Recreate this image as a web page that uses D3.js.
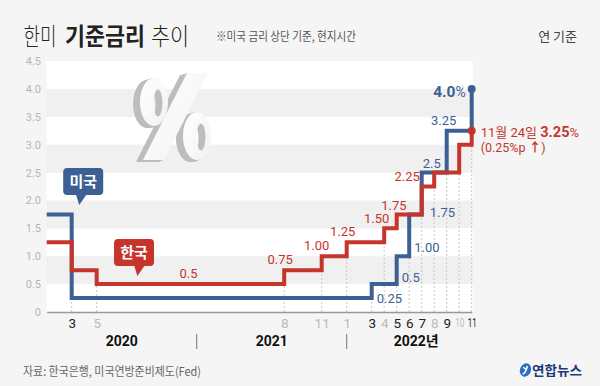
<!DOCTYPE html>
<html>
<head>
<meta charset="utf-8">
<script src="https://cdnjs.cloudflare.com/ajax/libs/d3/7.8.5/d3.min.js"></script>
<style>
  body { margin: 0; background: #f5f5f5; }
  svg { display: block; font-family: Roboto, "Noto Sans CJK KR", sans-serif; }
</style>
</head>
<body>
<div id="chart"></div>
<script>
// month index: 0 = Jan 2020 ... 34 = Nov 2022
const usMonths = [0, 2, 26, 28, 29, 30, 32, 34];
const usRates  = [1.75, 0.25, 0.5, 1.0, 1.75, 2.5, 3.25, 4.0];
const krMonths = [0, 2, 4, 19, 22, 24, 27, 28, 30, 31, 33, 34];
const krRates  = [1.25, 0.75, 0.5, 0.75, 1.0, 1.25, 1.5, 1.75, 2.25, 2.5, 3.0, 3.25];
const tickMonths = [2, 4, 19, 22, 24, 26, 27, 28, 29, 30, 31, 32, 33, 34];
const yTicks = [0, 0.5, 1, 1.5, 2, 2.5, 3, 3.5, 4, 4.5];
const years = ["2020", "2021", "2022"];
const yearStarts = [0, 12, 24];
const usLabels = ["0.25", "0.5", "1.00", "1.75", "2.5", "3.25"];
const krLabels = ["0.5", "0.75", "1.00", "1.25", "1.50", "1.75", "2.25"];

const width = 600, height = 386;
const blue = "#3c5f94", red = "#c6352c";

const svg = d3.select("#chart").append("svg")
  .attr("width", width)
  .attr("height", height);

svg.append("rect").attr("width", width).attr("height", height).attr("fill", "#f5f5f5");

const x = d3.scaleLinear().domain([0, 34]).range([46.7, 471.7]);
const y = d3.scaleLinear().domain([0, 4.5]).range([312, 61]);

// background bands
svg.append("g").selectAll("rect")
  .data(d3.range(0, 4.5, 0.5))
  .enter().append("rect")
  .attr("x", x(0))
  .attr("width", 473 - x(0))
  .attr("y", d => y(d + 0.5))
  .attr("height", d => y(d) - y(d + 0.5))
  .attr("fill", (d, i) => i % 2 == 0 ? "#ffffff" : "#f0f0f0");

// big 3D % graphic (decoration), extrusion made with a filter
const defs = svg.append("defs");
const f = defs.append("filter").attr("id", "extrude")
  .attr("x", "-30%").attr("y", "-20%").attr("width", "160%").attr("height", "140%");
const steps = d3.range(1, 9);
steps.forEach(i => {
  f.append("feOffset").attr("in", "SourceAlpha").attr("dx", -i * 0.9).attr("dy", i * 0.3).attr("result", "o" + i);
});
const merge1 = f.append("feMerge").attr("result", "ext");
steps.forEach(i => merge1.append("feMergeNode").attr("in", "o" + i));
f.append("feFlood").attr("flood-color", "#bdbdbd").attr("result", "grey");
f.append("feComposite").attr("in", "grey").attr("in2", "ext").attr("operator", "in").attr("result", "side");
f.append("feGaussianBlur").attr("in", "side").attr("stdDeviation", 0.7).attr("result", "sideb");
const merge2 = f.append("feMerge");
merge2.append("feMergeNode").attr("in", "sideb");
merge2.append("feMergeNode").attr("in", "SourceGraphic");

const grad = defs.append("linearGradient").attr("id", "pctFace").attr("x1", 0).attr("y1", 0).attr("x2", 1).attr("y2", 1);
grad.append("stop").attr("offset", "0%").attr("stop-color", "#ffffff");
grad.append("stop").attr("offset", "100%").attr("stop-color", "#f2f2f2");

function ring(cx, cy, rx, ry, hx, hy, hrx, hry) {
  return "M" + (cx - rx) + "," + cy + "a" + rx + "," + ry + " 0 1,0 " + (2 * rx) + ",0a" + rx + "," + ry + " 0 1,0 " + (-2 * rx) + ",0Z" +
    "M" + (hx - hrx) + "," + hy + "a" + hrx + "," + hry + " 0 1,1 " + (2 * hrx) + ",0a" + hrx + "," + hry + " 0 1,1 " + (-2 * hrx) + ",0Z";
}
const pct = svg.append("g").attr("filter", "url(#extrude)").attr("fill", "url(#pctFace)");
pct.append("path").attr("fill-rule", "evenodd").attr("d", ring(154, 102, 14, 24, 158, 103, 4.5, 13.5));
pct.append("path").attr("fill-rule", "evenodd").attr("d", ring(197, 136, 14, 24, 201, 137, 4.5, 13.5));
pct.append("path").attr("d", "M187,73 L208,73 L164,160 L143,160 Z");

// y axis labels
const yAxis = svg.append("g")
  .attr("transform", "translate(41,0)")
  .call(d3.axisLeft(y).tickValues(yTicks).tickSize(0).tickPadding(0)
    .tickFormat(d => d == 0 ? "0" : d3.format(".1f")(d)));
yAxis.select(".domain").remove();
yAxis.selectAll("text").attr("fill", "#b5b5b5").style("font-size", "11px")
  .style("font-family", "Roboto, sans-serif");

// dotted guides from axis up to the foot of each step
function stepAt(months, rates, m) {
  const i = months.indexOf(m);
  return i > 0 ? [rates[i - 1], rates[i]] : [];
}
svg.append("g").selectAll("line")
  .data(tickMonths)
  .enter().append("line")
  .attr("x1", d => x(d)).attr("x2", d => x(d))
  .attr("y1", y(0))
  .attr("y2", d => y(d3.min(stepAt(usMonths, usRates, d).concat(stepAt(krMonths, krRates, d)))))
  .attr("stroke", "#c8c8c8")
  .attr("stroke-dasharray", "2,2");

// x axis
const xAxis = svg.append("g")
  .attr("transform", "translate(0," + y(0) + ")")
  .call(d3.axisBottom(x).tickValues(tickMonths).tickSize(0).tickSizeOuter(0).tickPadding(6)
    .tickFormat(d => (d % 12) + 1));
xAxis.select(".domain").attr("stroke", "#999").attr("stroke-width", 1.3);
xAxis.selectAll("text")
  .style("font-size", "13.5px")
  .style("font-family", "Roboto, sans-serif")
  .attr("fill", d => usMonths.indexOf(d) > 0 ? "#222" : "#bbb")
  .each(function (d) {
    if ((d % 12) + 1 >= 10 && d > 30) {
      d3.select(this).style("font-size", "12px").attr("textLength", 9).attr("lengthAdjust", "spacingAndGlyphs");
    }
  });

// year labels and dividers
const yearEnds = yearStarts.slice(1).concat([34]);
svg.append("g").selectAll("text")
  .data(years)
  .enter().append("text")
  .attr("x", (d, i) => x((yearStarts[i] + yearEnds[i]) / 2) + (i == 2 ? 7 : 0))
  .attr("y", 346)
  .attr("text-anchor", "middle")
  .style("font-size", "14px")
  .style("font-weight", "bold")
  .attr("fill", "#111")
  .text((d, i) => i == 2 ? d + "년" : d);

svg.append("g").selectAll("line")
  .data(yearStarts.slice(1))
  .enter().append("line")
  .attr("x1", d => x(d)).attr("x2", d => x(d))
  .attr("y1", 334).attr("y2", 349)
  .attr("stroke", "#777").attr("stroke-width", 1);

// step lines
const line = d3.line()
  .x(d => x(d[0]))
  .y(d => y(d[1]))
  .curve(d3.curveStepAfter);

const usData = usMonths.map((m, i) => [m, usRates[i]]);
const krData = krMonths.map((m, i) => [m, krRates[i]]);

svg.append("path").datum(usData)
  .attr("d", line).attr("fill", "none").attr("stroke", blue).attr("stroke-width", 4);
svg.append("path").datum(krData)
  .attr("d", line).attr("fill", "none").attr("stroke", red).attr("stroke-width", 4);

// end dots
const usLast = usData[usData.length - 1], krLast = krData[krData.length - 1];
svg.append("circle").attr("cx", x(usLast[0])).attr("cy", y(usLast[1])).attr("r", 4).attr("fill", blue);
svg.append("circle").attr("cx", x(krLast[0])).attr("cy", y(krLast[1])).attr("r", 4).attr("fill", red);

// value labels (offsets from the step corner)
const usLabelLayout = [
  { i: 1, m: 26, anchor: "start", dx: 5, dy: 5 },
  { i: 2, m: 28, anchor: "start", dx: 5, dy: -2 },
  { i: 3, m: 29, anchor: "start", dx: 5, dy: -4 },
  { i: 4, m: 30, anchor: "start", dx: 8, dy: 3 },
  { i: 5, m: 31, anchor: "middle", dx: -2.5, dy: -5 },
  { i: 6, m: 32, anchor: "middle", dx: -3, dy: -6 }
];
const krLabelLayout = [
  { i: 2, m: 11.5, dx: -2, dy: -6 },
  { i: 3, m: 19, dx: -4, dy: -6 },
  { i: 4, m: 22, dx: -5, dy: -6 },
  { i: 5, m: 24, dx: -4, dy: -6 },
  { i: 6, m: 27, dx: -7.5, dy: -5 },
  { i: 7, m: 28, dx: -2.7, dy: -4.5 },
  { i: 8, m: 30, dx: -14.5, dy: -5.5 }
];

svg.append("g").selectAll("text")
  .data(usLabelLayout)
  .enter().append("text")
  .attr("x", d => x(d.m) + d.dx)
  .attr("y", d => y(usRates[d.i]) + d.dy)
  .attr("text-anchor", d => d.anchor)
  .style("font-size", "13px")
  .attr("fill", blue)
  .text((d, k) => usLabels[k]);

svg.append("g").selectAll("text")
  .data(krLabelLayout)
  .enter().append("text")
  .attr("x", d => x(d.m) + d.dx)
  .attr("y", d => y(krRates[d.i]) + d.dy)
  .attr("text-anchor", "middle")
  .style("font-size", "13px")
  .attr("fill", red)
  .text((d, k) => krLabels[k]);

// final US value
const usEnd = svg.append("text")
  .attr("x", x(usLast[0]) - 6)
  .attr("y", y(usLast[1]) + 8)
  .attr("text-anchor", "end")
  .attr("fill", blue);
usEnd.append("tspan").style("font-size", "15.5px").style("font-weight", "bold").text("4.0");
usEnd.append("tspan").style("font-size", "14px").text("%");

// final Korea value
const krEnd = svg.append("text")
  .attr("x", x(krLast[0]) + 9)
  .attr("y", y(krLast[1]) + 6)
  .attr("fill", red);
krEnd.append("tspan").style("font-size", "13px").text("11월 24일 ");
krEnd.append("tspan").style("font-size", "14.5px").style("font-weight", "bold").text("3.25");
krEnd.append("tspan").style("font-size", "13px").text("%");

const krStep = svg.append("text")
  .attr("x", x(krLast[0]) + 9)
  .attr("y", y(krLast[1]) + 21)
  .attr("fill", red)
  .style("font-size", "12.5px");
krStep.append("tspan").text("(0.25%p ");
krStep.append("tspan").style("font-weight", "bold").text("↑");
krStep.append("tspan").text(")");

// callout tags
function tagPath(ax, ay, left, right, top, bottom, t0, t1) {
  const r = 4;
  const x0 = ax + left, x1 = ax + right, y0 = ay + top, y1 = ay + bottom;
  return "M" + (x0 + r) + "," + y0 +
    "H" + (x1 - r) + "Q" + x1 + "," + y0 + " " + x1 + "," + (y0 + r) +
    "V" + (y1 - r) + "Q" + x1 + "," + y1 + " " + (x1 - r) + "," + y1 +
    "H" + (ax + t1) + "L" + ax + "," + ay + "L" + (ax + t0) + "," + y1 +
    "H" + (x0 + r) + "Q" + x0 + "," + y1 + " " + x0 + "," + (y1 - r) +
    "V" + (y0 + r) + "Q" + x0 + "," + y0 + " " + (x0 + r) + "," + y0 + "Z";
}
function tag(m, v, left, text, color) {
  const ax = x(m), ay = y(v);
  svg.append("path")
    .attr("d", tagPath(ax, ay, left, left + 40, -37, -10, -3, 7))
    .attr("fill", color);
  svg.append("text")
    .attr("x", ax + left + 20)
    .attr("y", ay - 18)
    .attr("text-anchor", "middle")
    .attr("fill", "#fff")
    .style("font-family", "'Noto Sans CJK KR', sans-serif")
    .style("font-size", "15px")
    .style("font-weight", "bold")
    .text(text);
}
tag(2.6, 1.92, -16, "미국", blue);
tag(7.25, 0.645, -23.3, "한국", red);

// title, as three pieces, slightly stretched upward like the condensed original
const titleParts = [
  { t: "한미", x: 23.5, w: 33, weight: "300" },
  { t: "기준금리", x: 65, w: 80, weight: "bold" },
  { t: "추이", x: 151, w: 38, weight: "300" }
];
svg.append("g").selectAll("text")
  .data(titleParts)
  .enter().append("text")
  .attr("transform", d => "translate(" + d.x + ",45) scale(1,1.2)")
  .attr("fill", "#222")
  .attr("textLength", d => d.w)
  .attr("lengthAdjust", "spacingAndGlyphs")
  .style("font-family", "'Noto Sans CJK KR', sans-serif")
  .style("font-size", "20px")
  .style("font-weight", d => d.weight)
  .text(d => d.t);

svg.append("text")
  .attr("x", 216).attr("y", 41)
  .attr("fill", "#555")
  .attr("textLength", 140).attr("lengthAdjust", "spacingAndGlyphs")
  .style("font-family", "'Noto Sans CJK KR', sans-serif")
  .style("font-size", "12px")
  .text("※미국 금리 상단 기준, 현지시간");

svg.append("text")
  .attr("x", 577).attr("y", 41)
  .attr("text-anchor", "end")
  .attr("fill", "#444")
  .style("font-family", "'Noto Sans CJK KR', sans-serif")
  .style("font-size", "13px")
  .text("연 기준");

// footer
svg.append("text")
  .attr("x", 23).attr("y", 376)
  .attr("fill", "#666")
  .attr("textLength", 178).attr("lengthAdjust", "spacingAndGlyphs")
  .style("font-family", "'Noto Sans CJK KR', sans-serif")
  .style("font-size", "12px")
  .text("자료: 한국은행, 미국연방준비제도(Fed)");

const logo = svg.append("g").attr("transform", "translate(525.5,370)");
logo.append("ellipse").attr("rx", 5.5).attr("ry", 6.8).attr("transform", "rotate(20)").attr("fill", "#2a6fc9");
logo.append("path").attr("d", "M-2,-3 Q0,1 2,-4 M2,-4 Q0,4 -3,4")
  .attr("fill", "none").attr("stroke", "#fff").attr("stroke-width", 1.4);
svg.append("text")
  .attr("x", 532).attr("y", 375)
  .attr("fill", "#1d3a78")
  .attr("textLength", 50).attr("lengthAdjust", "spacingAndGlyphs")
  .style("font-family", "'Noto Sans CJK KR', sans-serif")
  .style("font-size", "13px")
  .style("font-weight", "bold")
  .text("연합뉴스");
</script>
</body>
</html>
